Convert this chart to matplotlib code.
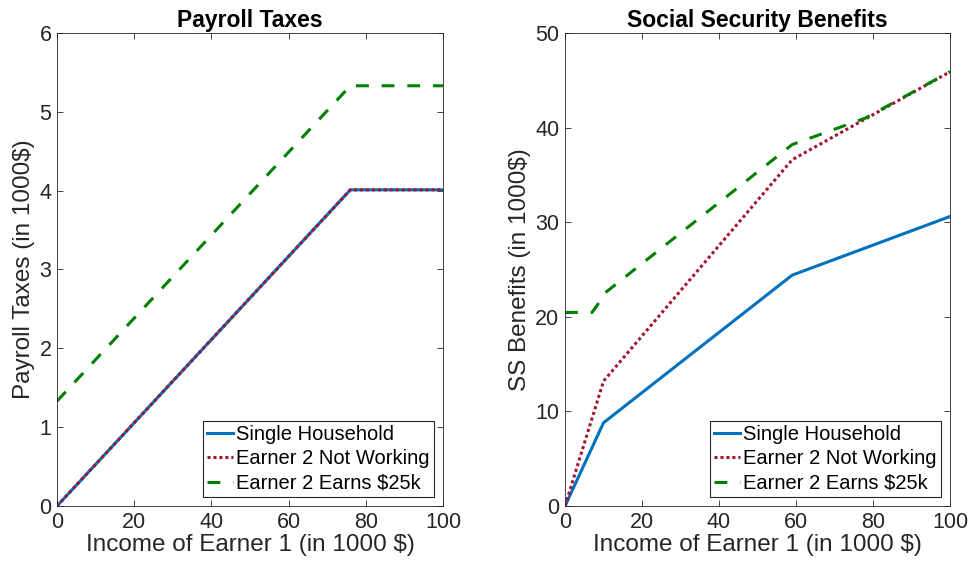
import numpy as np
import matplotlib.pyplot as plt

plt.rcParams['font.family'] = ['Liberation Sans', 'DejaVu Sans']

# income of earner 1 (1000 $) at the kinks of each schedule
tax_x = [0, 76, 100]
tax_single = [0, 4.01, 4.01]
tax_not_working = [0, 4.01, 4.01]
tax_earns25 = [1.33, 5.33, 5.33]

ss_x = [0, 10, 59, 100]
ss_single = [0, 8.8, 24.4, 30.6]
ss_not_working = [0, 13.2, 36.6, 45.9]
ss_x25 = [0, 7, 8.5, 10, 59, 78, 100]
ss_earns25 = [20.45, 20.45, 21.3, 22.4, 38.2, 41.0, 45.9]

labels = ['Single Household', 'Earner 2 Not Working', 'Earner 2 Earns $25k']
blue = '#0072BD'
red = '#A2142F'
green = '#008000'
dark = '#262626'

fig = plt.figure(figsize=(9.71, 5.72), dpi=100)
ax1 = fig.add_axes([0.0587, 0.1154, 0.3975, 0.827])
ax2 = fig.add_axes([0.5819, 0.1154, 0.3965, 0.827])


def draw(ax, x1, y1, y2, x3, y3):
    ax.plot(x1, y1, color=blue, lw=2.2, label=labels[0])
    ax.plot(x1, y2, color=red, lw=2.2, dashes=(1, 0.95), label=labels[1])
    ax.plot(x3, y3, color=green, lw=2.2, dashes=(4.2, 4.2), label=labels[2])
    ax.set_xlim(0, 100)
    ax.set_xticks([0, 20, 40, 60, 80, 100])
    ax.tick_params(direction='in', top=True, right=True, labelsize=15.5,
                   colors=dark, length=4, width=0.6, pad=4)
    for s in ax.spines.values():
        s.set_color(dark)
        s.set_linewidth(0.6)
    ax.set_xlabel('Income of Earner 1 (in 1000 $)', fontsize=17.5, color=dark,
                  labelpad=1)
    leg = ax.legend(loc='lower right', fontsize=14.5, handlelength=1.3,
                    handletextpad=0.15, labelspacing=0.28, borderpad=0.2,
                    fancybox=False, framealpha=1, borderaxespad=0.45)
    leg.get_frame().set_edgecolor(dark)
    leg.get_frame().set_linewidth(0.8)


draw(ax1, tax_x, tax_single, tax_not_working, tax_x, tax_earns25)
ax1.set_ylim(0, 6)
ax1.set_ylabel('Payroll Taxes (in 1000$)', fontsize=17.5, color=dark, labelpad=3)
ax1.set_title('Payroll Taxes', fontsize=16.5, fontweight='bold', pad=4)

draw(ax2, ss_x, ss_single, ss_not_working, ss_x25, ss_earns25)
ax2.set_ylim(0, 50)
ax2.set_yticks([0, 10, 20, 30, 40, 50])
ax2.set_ylabel('SS Benefits (in 1000$)', fontsize=17.5, color=dark, labelpad=3)
ax2.set_title('Social Security Benefits', fontsize=16.5, fontweight='bold', pad=4)

fig.savefig('out.png', dpi=100)
